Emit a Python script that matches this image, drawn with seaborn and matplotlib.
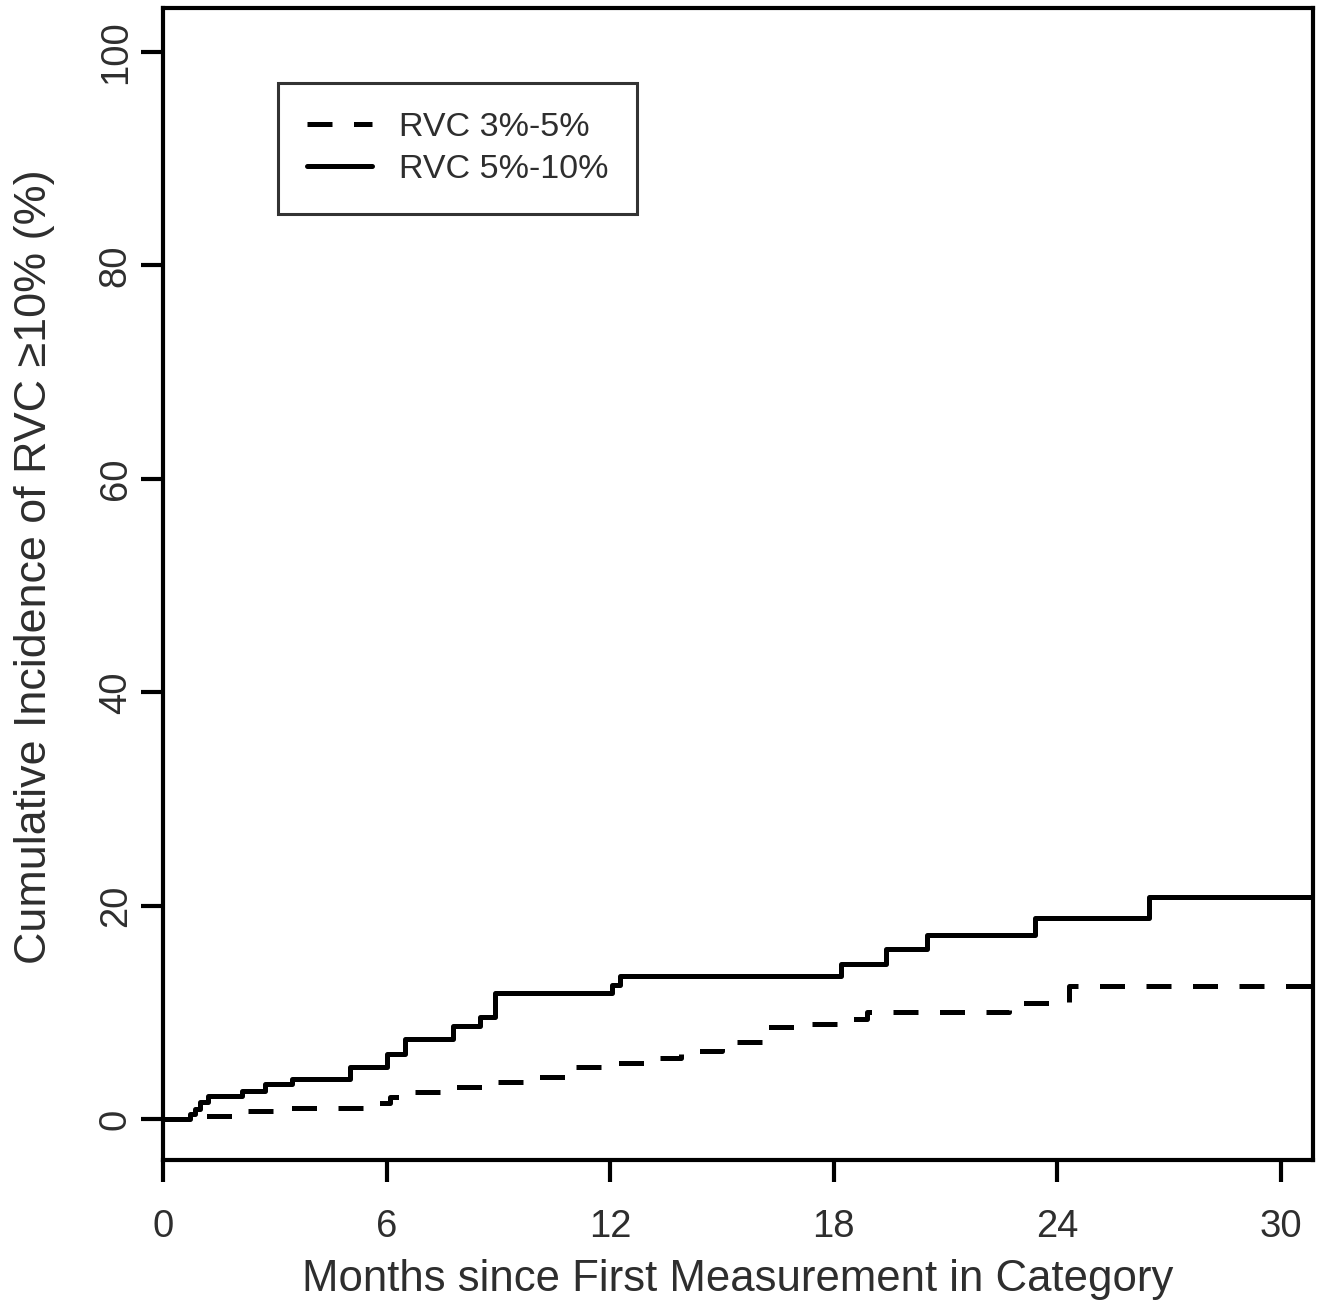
import matplotlib
matplotlib.use("Agg")
import matplotlib.pyplot as plt
import seaborn as sns
import pandas as pd

# Data (step functions, months vs cumulative incidence %)
months_510 = [0, 0.72, 0.85, 1.0, 1.2, 2.12, 2.74, 3.46, 5.02, 6.0, 6.5, 7.78, 8.5, 8.9,
              12.05, 12.25, 18.2, 19.4, 20.5, 23.4, 26.45, 30.9]
inc_510 = [0, 0.5, 1.0, 1.6, 2.2, 2.7, 3.3, 3.8, 4.9, 6.1, 7.5, 8.8, 9.6, 11.8,
           12.6, 13.4, 14.6, 16.0, 17.3, 18.9, 20.8, 20.8]

months_35 = [0, 1.0, 2.1, 3.3, 5.8, 6.1, 6.65, 7.5, 9.0, 9.7, 11.0, 11.9, 12.9, 13.9,
             15.0, 15.4, 16.1, 17.1, 18.2, 18.9, 22.7, 24.3, 30.9]
inc_35 = [0, 0.3, 0.8, 1.1, 1.5, 2.1, 2.6, 3.0, 3.5, 4.0, 4.9, 5.3, 5.8, 6.4,
          7.0, 7.3, 8.7, 8.9, 9.4, 10.1, 10.9, 12.5, 12.5]

labels = ["RVC 3%-5%", "RVC 5%-10%"]
x_ticks = [0, 6, 12, 18, 24, 30]
y_ticks = [0, 20, 40, 60, 80, 100]

sns.set_style("white")
plt.rcParams['font.family'] = ['Liberation Sans', 'DejaVu Sans']

fig = plt.figure(figsize=(13.25, 13.09), dpi=100)
ax = fig.add_axes([0.123, 0.1138, 0.868, 0.8801])

df35 = pd.DataFrame({"m": months_35, "v": inc_35})
df510 = pd.DataFrame({"m": months_510, "v": inc_510})

lw = 3.6
sns.lineplot(data=df35, x="m", y="v", ax=ax, color="black", lw=lw,
             drawstyle="steps-post", estimator=None, sort=False,
             linestyle=(0, (5.0, 4.3)), label=labels[0])
sns.lineplot(data=df510, x="m", y="v", ax=ax, color="black", lw=lw,
             drawstyle="steps-post", estimator=None, sort=False,
             label=labels[1])

ax.set_xlim(0, 30.86)
ax.set_ylim(-3.8, 104.1)
ax.set_xticks(x_ticks)
ax.set_yticks(y_ticks)
txtc = "#2e2e2e"
ax.set_xticklabels([str(t) for t in x_ticks], fontsize=27.5, color=txtc)
ax.set_yticklabels([str(t) for t in y_ticks], fontsize=27.5, color=txtc,
                   rotation=90, va="center")
ax.tick_params(axis="both", direction="out", length=16, width=3, colors="black",
               labelcolor=txtc, bottom=True, left=True)
ax.tick_params(axis="x", pad=19)
ax.tick_params(axis="y", pad=5)
for s in ax.spines.values():
    s.set_visible(True)
    s.set_color("black")
    s.set_linewidth(3)

ax.set_xlabel("Months since First Measurement in Category", fontsize=31.5, color=txtc,
              labelpad=10)
ax.set_ylabel("Cumulative Incidence of RVC \u226510% (%)", fontsize=32.3, color=txtc)
ax.yaxis.set_label_coords(-0.094, 0.515)

leg = ax.legend(loc="upper left", bbox_to_anchor=(0.1, 0.935), fontsize=24.5,
                frameon=True, fancybox=False, handlelength=1.9, handletextpad=0.8,
                borderpad=0.85, labelspacing=0.32, borderaxespad=0)
leg.get_frame().set_edgecolor("black")
leg.get_frame().set_linewidth(2.2)
for t in leg.get_texts():
    t.set_color(txtc)

fig.savefig("out.png", dpi=100, facecolor="white")
